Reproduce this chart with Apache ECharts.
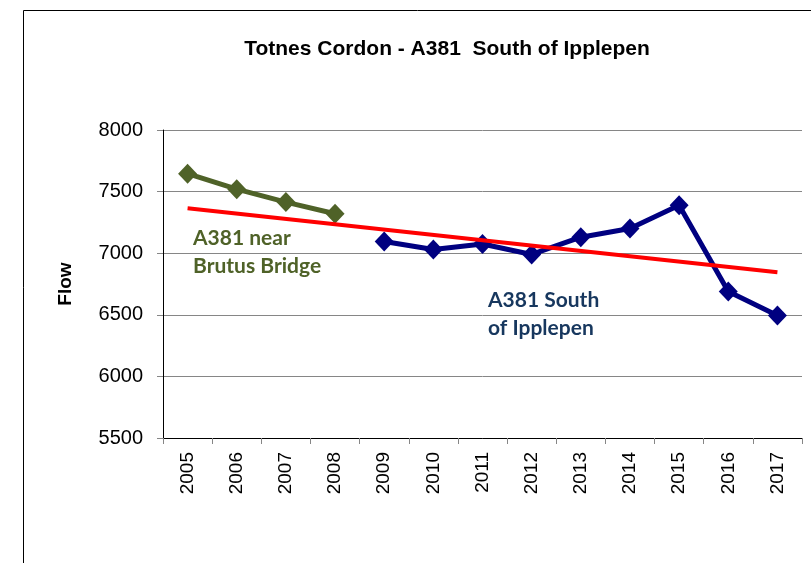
<!DOCTYPE html>
<html><head><meta charset="utf-8">
<script src="https://cdn.jsdelivr.net/npm/echarts@6/dist/echarts.min.js"></script>
<style>html,body{margin:0;padding:0;background:#fff}#c{width:811px;height:563px}</style>
</head><body><div id="c"></div>
<script>
const years = ['2005','2006','2007','2008','2009','2010','2011','2012','2013','2014','2015','2016','2017'];
const brutus = [7645, 7520, 7415, 7320, null, null, null, null, null, null, null, null, null];
const ipplepen = [null, null, null, null, 7095, 7030, 7075, 6990, 7130, 7200, 7390, 6690, 6495];
const trend = [7365, null, null, null, null, null, null, null, null, null, null, null, 6845];
const yTicks = {min: 5500, max: 8000, interval: 500};

const chart = echarts.init(document.getElementById('c'), null, {renderer: 'canvas'});
chart.setOption({
  animation: false,
  backgroundColor: '#fff',
  title: {
    text: 'Totnes Cordon - A381  South of Ipplepen',
    left: 442, top: 34, textAlign: 'center',
    textStyle: {fontFamily: 'Liberation Sans, Arial', fontWeight: 'bold', fontSize: 21, color: '#000'}
  },
  graphic: [
    {type: 'rect', left: 21, top: 8, shape: {width: 788, height: 600}, style: {fill: 'none', stroke: '#000', lineWidth: 1}, z: -1},
    {type: 'text', left: 193, top: 224, style: {text: 'A381 near\nBrutus Bridge', fill: '#4f6228', font: 'bold 21px Lato, "Open Sans", sans-serif', lineHeight: 28}},
    {type: 'text', left: 488, top: 286, style: {text: 'A381 South\nof Ipplepen', fill: '#17375e', font: 'bold 21px Lato, "Open Sans", sans-serif', lineHeight: 28}}
  ],
  grid: {left: 163, top: 130, right: 9, bottom: 125, containLabel: false},
  xAxis: {
    type: 'category', data: years, boundaryGap: true,
    axisLine: {lineStyle: {color: '#000', width: 1}},
    axisTick: {show: true, length: 6, lineStyle: {color: '#868686'}},
    axisLabel: {rotate: 90, margin: 14, fontFamily: 'Liberation Sans, Arial', fontSize: 19, color: '#000'},
    splitLine: {show: false}
  },
  yAxis: {
    type: 'value', min: yTicks.min, max: yTicks.max, interval: yTicks.interval,
    name: 'Flow', nameLocation: 'middle', nameGap: 88, nameRotate: 90,
    nameTextStyle: {fontFamily: 'Liberation Sans, Arial', fontWeight: 'bold', fontSize: 19, color: '#000'},
    axisLine: {show: true, lineStyle: {color: '#000', width: 1}},
    axisTick: {show: true, length: 6, lineStyle: {color: '#868686'}},
    axisLabel: {margin: 20, fontFamily: 'Liberation Sans, Arial', fontSize: 20, color: '#000', formatter: v => String(v)},
    splitLine: {show: true, lineStyle: {color: '#868686', width: 1}}
  },
  series: [
    {type: 'line', data: brutus, symbol: 'diamond', symbolSize: [19, 20],
     lineStyle: {color: '#4f6228', width: 5}, itemStyle: {color: '#4f6228'}, z: 3},
    {type: 'line', data: ipplepen, symbol: 'diamond', symbolSize: [19, 20],
     lineStyle: {color: '#000080', width: 5}, itemStyle: {color: '#000080'}, z: 3},
    {type: 'line', data: trend, connectNulls: true, symbol: 'none',
     lineStyle: {color: '#ff0000', width: 4}, z: 4}
  ]
});
</script></body></html>
